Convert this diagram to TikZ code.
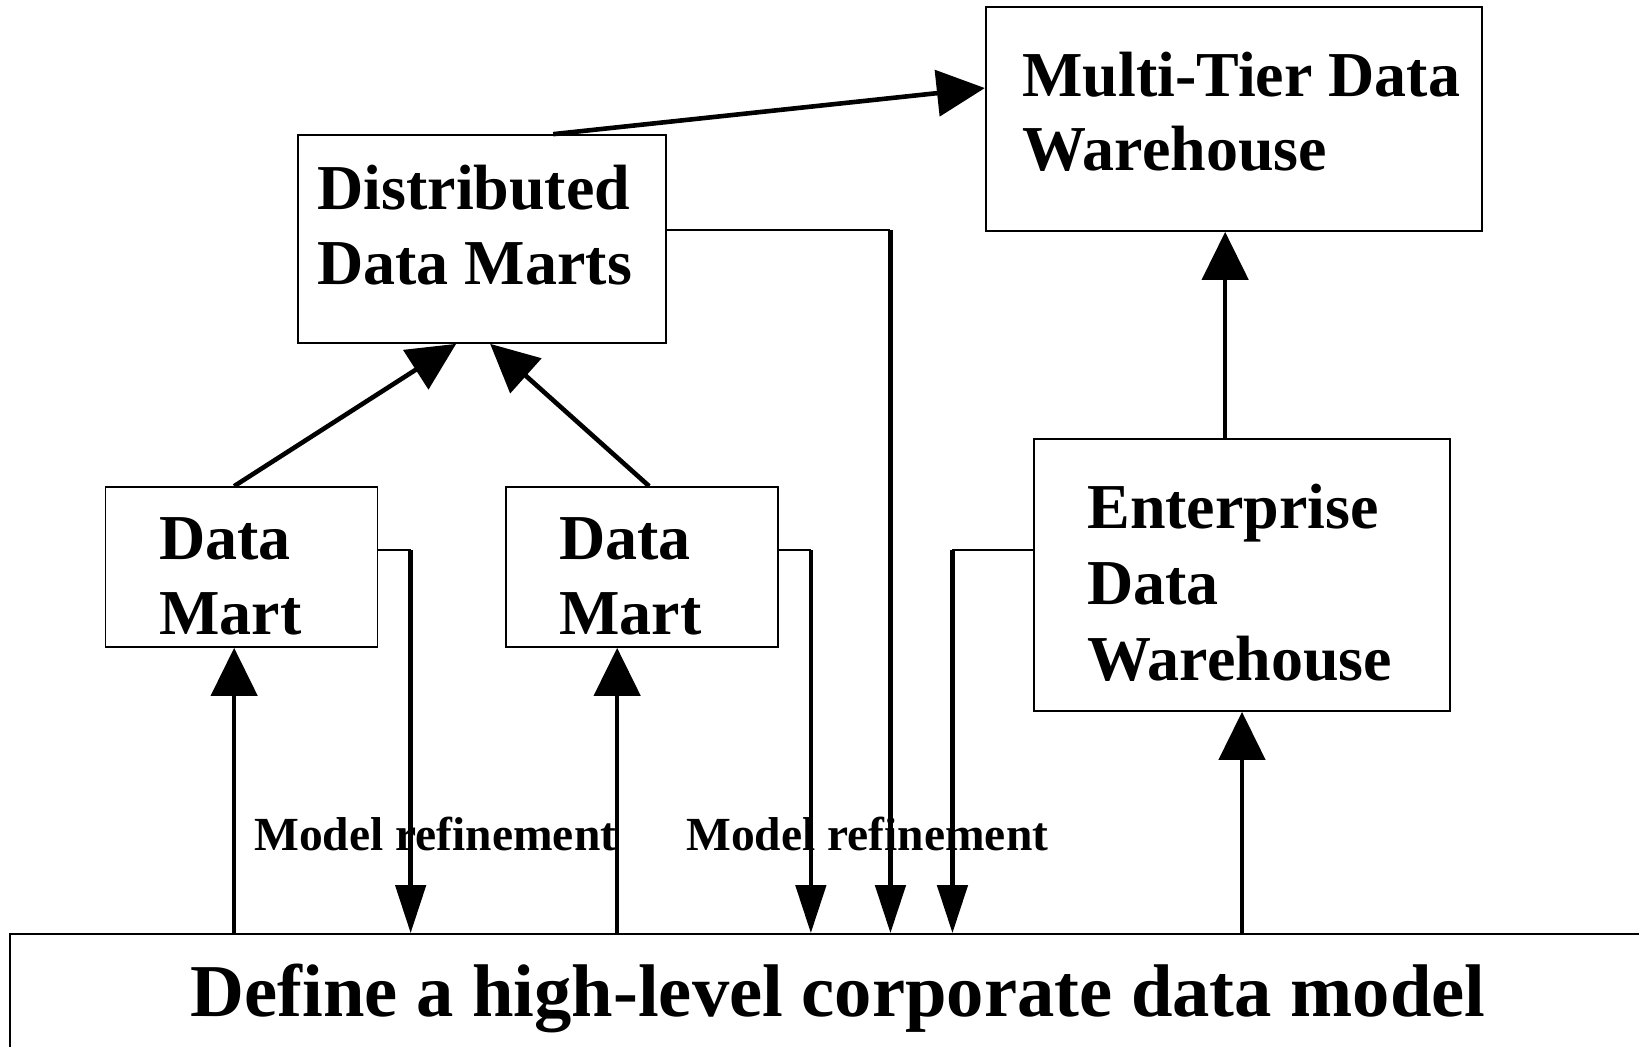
\documentclass[tikz,border=0pt]{standalone}
\usepackage{fontspec}
\setmainfont{Liberation Serif}
\usetikzlibrary{arrows.meta,calc}
\begin{document}
\begin{tikzpicture}[x=0.5pt,y=-0.5pt,
  box/.style={draw, line width=0.85pt, inner sep=0pt},
  lbl/.style={anchor=base west, inner sep=0pt, font=\fontsize{32pt}{37.5pt}\selectfont\bfseries},
  small/.style={anchor=base west, inner sep=0pt, font=\fontsize{23.75pt}{28pt}\selectfont\bfseries},
  thin/.style={line width=0.85pt},
  uparr/.style={line width=2.3pt, -{Triangle[length=24pt,width=23pt]}},
  dnarr/.style={line width=2.3pt, -{Triangle[length=24pt,width=15pt]}}]
\clip (0,0) rectangle (1639,1046);
\fill[white] (0,0) rectangle (1639,1046);
% boxes
\node[box, minimum width=248.3pt, minimum height=111.85pt] (mt) at (1234,119.15) {};
\node[box, minimum width=184pt, minimum height=104pt] (ddm) at (482,239) {};
\node[box, minimum width=135.9pt, minimum height=80pt] (dm1) at (241.5,567) {};
\node[box, minimum width=135.85pt, minimum height=80pt] (dm2) at (641.85,567) {};
\node[box, minimum width=208pt, minimum height=136pt] (edw) at (1242,575) {};
\node[box, minimum width=825pt, minimum height=73pt] (base) at (835,1007) {};
% texts
\node[lbl] (mt1) at (1022,96) {Multi-Tier Data};
\node[lbl] (mt2) at (1022,170) {Warehouse};
\node[lbl] (ddm1) at (317,209) {Distributed};
\node[lbl] (ddm2) at (317,284) {Data Marts};
\node[lbl] (dm1a) at (159,559) {Data};
\node[lbl] (dm1b) at (159,634) {Mart};
\node[lbl] (dm2a) at (559,559) {Data};
\node[lbl] (dm2b) at (559,634) {Mart};
\node[lbl] (edw1) at (1087,528) {Enterprise};
\node[lbl] (edw2) at (1087,604) {Data};
\node[lbl] (edw3) at (1087,680) {Warehouse};
\node[small] (mr1) at (254,850) {Model refinement};
\node[small] (mr2) at (686,850) {Model refinement};
\node[anchor=base, inner sep=0pt, font=\fontsize{37.3pt}{44pt}\selectfont\bfseries] (basetxt) at (838,1016) {Define a high-level corporate data model};
% coordinates on boxes
\coordinate (ddmtop) at ($(ddm.north west)+(256,0)$);
\coordinate (mtin) at ($(mt.north west)+(0,81.6)$);
\coordinate (dm1top) at ($(dm1.north west)+(129.4,0)$);
\coordinate (dm2top) at ($(dm2.north west)+(144,0)$);
\coordinate (ddmb1) at ($(ddm.south west)+(159,0)$);
\coordinate (ddmb2) at ($(ddm.south west)+(193,0)$);
\coordinate (edwtop) at ($(edw.north west)+(192,0)$);
\coordinate (dm1bot) at ($(dm1.south west)+(129.4,0)$);
\coordinate (dm2bot) at ($(dm2.south west)+(112,0)$);
\coordinate (dm1r) at ($(dm1.north east)+(0,64)$);
\coordinate (dm2r) at ($(dm2.north east)+(0,64)$);
\coordinate (ddmr) at ($(ddm.north east)+(0,96)$);
\coordinate (edwl) at ($(edw.north west)+(0,112)$);
\coordinate (c1) at ($(dm1r)+(32.4,0)$);
\coordinate (c2) at ($(dm2r)+(32.3,0)$);
\coordinate (c3) at ($(ddmr)+(223.6,0)$);
\coordinate (c4) at ($(edwl)+(-80.7,0)$);
% arrows upward
\draw[uparr] (ddmtop) -- (mtin);
\draw[uparr] (dm1top) -- (ddmb1);
\draw[uparr] (dm2top) -- (ddmb2);
\draw[uparr] (edwtop) -- (edwtop |- mt.south);
\draw[uparr] (dm1bot |- base.north) -- (dm1bot);
\draw[uparr] (dm2bot |- base.north) -- (dm2bot);
\draw[uparr] (edw.south |- base.north) -- (edw.south);
% model refinement connectors
\draw[thin] (dm1r) -- (c1);
\draw[dnarr] (c1) -- (c1 |- base.north);
\draw[thin] (dm2r) -- (c2);
\draw[dnarr] (c2) -- (c2 |- base.north);
\draw[thin] (ddmr) -- (c3);
\draw[dnarr] (c3) -- (c3 |- base.north);
\draw[thin] (edwl) -- (c4);
\draw[dnarr] (c4) -- (c4 |- base.north);
\end{tikzpicture}
\end{document}
